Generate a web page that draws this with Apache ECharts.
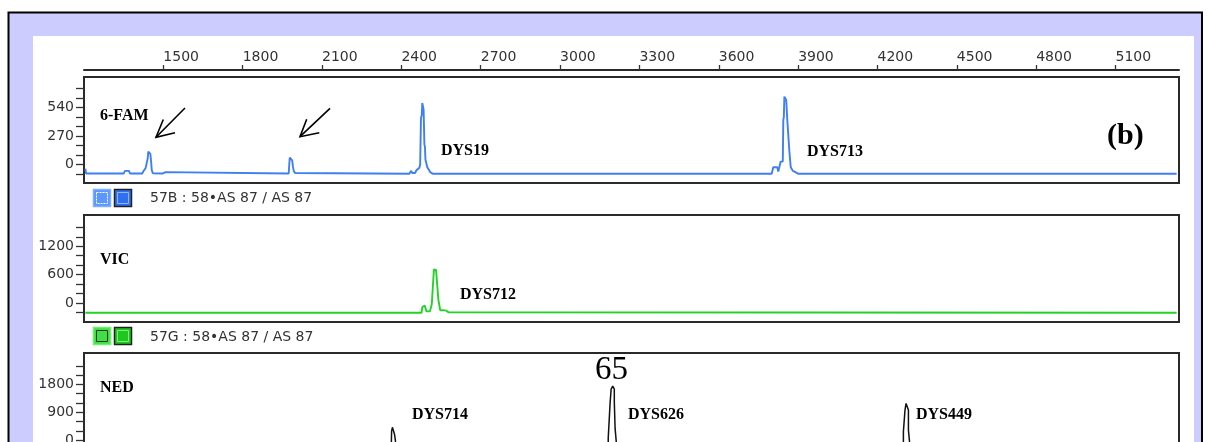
<!DOCTYPE html>
<html>
<head>
<meta charset="utf-8">
<script src="https://cdn.jsdelivr.net/npm/echarts@6/dist/echarts.min.js"></script>
<style>html,body{margin:0;padding:0;background:#fff;}#c{width:1209px;height:442px;}</style>
</head>
<body>
<div id="c"></div>
<script>
// ---- data ----
const xTickLabels = [1500, 1800, 2100, 2400, 2700, 3000, 3300, 3600, 3900, 4200, 4500, 4800, 5100];

const famX = [1205,1208,1350,1355,1370,1374,1402,1405,1408,1420,1424,1433,1439,1441,1443,1446,1449,1451,1454,1456,1460,1496,1498,1508,1510,
  1974,1976,1978,1984,1987,1990,1993,1998,2004,
  2430,2437,2441,2452,2456,2462,2468,2471,2474,2477,2479,2482,2484,2487,2489,2491,2495,2498,2505,2510,2520,
  3331,3333,3337,3339,
  3800,3806,3821,3825,3834,3842,3844,3846,3848,3851,3855,3857,3859,3867,3869,3872,3880,3888,3901,5331];
const famY = [-40,-85,-85,-60,-60,-85,-85,-72,-85,-85,-66,-34,-30,60,123,118,108,100,20,-50,-82,-85,-72,-72,-85,
  -85,0,66,62,40,-20,-60,-80,-85,
  -88,-60,-80,-80,-57,-50,-30,0,440,470,583,570,520,190,170,45,30,-25,-40,-75,-88,
  -88,-72,-72,-88,
  -88,-25,-25,-66,28,28,423,450,644,640,613,600,423,123,110,-25,-60,-70,-88,-88];

const vicX = [1205,1247,1249,1251,1285,1287,1289,2476,2479,2482,2488,2492,2495,2508,2515,2521,2523,2527,2531,2535,2538,2540,2544,2547,2553,2557,2562,2570,2578,2585,5331];
const vicY = [-205,-205,-170,-205,-205,-170,-205,-205,-90,-60,-50,-90,-175,-175,-20,0,708,720,700,708,690,60,40,-155,-160,-150,-165,-160,-195,-205,-205];

const nedX = [1205,2355,2362,2363,2366,2368,2370,2374,2378,2383,
  3175,3182,3182,3189,3189,3192,3193,3199,3201,3205,3205,3208,3208,3214,3214,3220,
  4292,4298,4298,4304,4304,4308,4310,4317,4317,4323,4323,4329,5331];
const nedY = [-300,-300,-100,300,420,437,380,200,-50,-300,
  -300,-200,64,64,1190,1190,1650,1746,1700,1650,1241,1241,386,386,-200,-300,
  -300,-200,277,277,974,1190,1190,974,331,331,-200,-300,-300];

const famTicks = [-90,0,90,180,270,360,450,540,630,720];
const famLabels = [0,270,540];
const vicTicks = [-200,0,200,400,600,800,1000,1200,1400,1600];
const vicLabels = [0,600,1200];
const nedTicks = [-300,0,300,600,900,1200,1500,1800,2100,2400];
const nedLabels = [0,900,1800];

// ---- chart ----
const pairs = (xs, ys) => xs.map((x, i) => [x, ys[i]]);
const AX = '#333';
const SANS = 'DejaVu Sans';
const SERIF = 'Liberation Serif';
const gridCommon = {left: 84, width: 1095, height: 107, show: true, borderColor: '#2a2a2a', borderWidth: 2,
  backgroundColor: '#fff', containLabel: false, outerBoundsMode: 'none'};

function yAxis(idx, min, max, ticks, labels) {
  return {
    type: 'value', gridIndex: idx, min: min, max: max,
    axisLine: {show: true, onZero: false, lineStyle: {color: '#2a2a2a', width: 2}},
    axisTick: {show: true, length: 8, customValues: ticks, lineStyle: {color: AX, width: 1.3}},
    axisLabel: {customValues: labels, margin: 10, fontSize: 14, fontFamily: SANS, color: AX, formatter: v => String(v)},
    splitLine: {show: false}
  };
}
function hiddenX(idx) {
  return {type: 'value', gridIndex: idx, min: 1200, max: 5340, show: false, axisLine: {onZero: false}, splitLine: {show: false}};
}

function txt(x, y, s, font, fill) {
  return {type: 'text', x: x, y: y, z: 20,
    style: {text: s, font: font, fill: fill || '#000', textVerticalAlign: 'middle', textAlign: 'left'}};
}
const boldSerif = 'bold 16px "' + SERIF + '"';
const sans14 = '14px "' + SANS + '"';

const chart = echarts.init(document.getElementById('c'), null, {renderer: 'canvas'});
chart.setOption({
  animation: false,
  backgroundColor: '#fff',
  grid: [
    Object.assign({}, gridCommon, {top: 77, height: 106}),
    Object.assign({}, gridCommon, {top: 215}),
    Object.assign({}, gridCommon, {top: 353})
  ],
  xAxis: [
    {type: 'value', gridIndex: 0, min: 1200, max: 5340, position: 'top', offset: 7,
      axisLine: {show: true, onZero: false, lineStyle: {color: '#2a2a2a', width: 2}},
      axisTick: {show: true, length: 5, customValues: xTickLabels, lineStyle: {color: AX, width: 1.3}},
      axisLabel: {customValues: xTickLabels, align: 'left', margin: 6, fontSize: 14, fontFamily: SANS, color: AX, formatter: v => String(v)},
      splitLine: {show: false}},
    hiddenX(1), hiddenX(2)
  ],
  yAxis: [
    yAxis(0, -175, 830, famTicks, famLabels),
    yAxis(1, -400, 1860, vicTicks, vicLabels),
    yAxis(2, -630, 2810, nedTicks, nedLabels)
  ],
  series: [
    {type: 'line', xAxisIndex: 0, yAxisIndex: 0, data: pairs(famX, famY), showSymbol: false, lineStyle: {color: '#3f7ff2', width: 1.9}},
    {type: 'line', xAxisIndex: 1, yAxisIndex: 1, data: pairs(vicX, vicY), showSymbol: false, lineStyle: {color: '#22d226', width: 1.9}},
    {type: 'line', xAxisIndex: 2, yAxisIndex: 2, data: pairs(nedX, nedY), showSymbol: false, lineStyle: {color: '#111', width: 1.5}}
  ],
  graphic: [
    {type: 'rect', z: -100, shape: {x: 8.5, y: 12.5, width: 1193.5, height: 460}, style: {fill: '#ccccff', stroke: '#000', lineWidth: 2}},
    {type: 'rect', z: -99, shape: {x: 33, y: 36, width: 1161, height: 440}, style: {fill: '#fff'}},
    // legend squares row 1
    {type: 'rect', z: 10, shape: {x: 93.5, y: 189.5, width: 17, height: 17}, style: {fill: '#5c97ff', stroke: '#7fb0ff', lineWidth: 1.5}},
    {type: 'rect', z: 11, shape: {x: 96.5, y: 192.5, width: 11, height: 11}, style: {fill: 'none', stroke: '#fff', lineWidth: 1, lineDash: [2, 1]}},
    {type: 'rect', z: 10, shape: {x: 114.5, y: 189.5, width: 17, height: 17}, style: {fill: '#2f6ff0', stroke: '#222', lineWidth: 1.5}},
    {type: 'rect', z: 11, shape: {x: 117.5, y: 192.5, width: 11, height: 11}, style: {fill: 'none', stroke: '#8fb5ff', lineWidth: 1}},
    // legend squares row 2
    {type: 'rect', z: 10, shape: {x: 93.5, y: 327.5, width: 17, height: 17}, style: {fill: '#3fe03f', stroke: '#6ef06e', lineWidth: 1.5}},
    {type: 'rect', z: 11, shape: {x: 96.5, y: 330.5, width: 11, height: 11}, style: {fill: 'none', stroke: '#333', lineWidth: 1}},
    {type: 'rect', z: 10, shape: {x: 114.5, y: 327.5, width: 17, height: 17}, style: {fill: '#1cc81c', stroke: '#222', lineWidth: 1.5}},
    {type: 'rect', z: 11, shape: {x: 117.5, y: 330.5, width: 11, height: 11}, style: {fill: 'none', stroke: '#7fe87f', lineWidth: 1}},
    txt(150, 198, '57B : 58\u2022AS 87 / AS 87', sans14, '#333'),
    txt(150, 337, '57G : 58\u2022AS 87 / AS 87', sans14, '#333'),
    // annotations
    txt(100, 116, '6-FAM', boldSerif),
    txt(441, 151, 'DYS19', boldSerif),
    txt(807, 152, 'DYS713', boldSerif),
    txt(1107, 136, '(b)', 'bold 30px "' + SERIF + '"'),
    txt(100, 260, 'VIC', boldSerif),
    txt(460, 295, 'DYS712', boldSerif),
    txt(100, 388, 'NED', boldSerif),
    txt(412, 415, 'DYS714', boldSerif),
    txt(628, 415, 'DYS626', boldSerif),
    txt(916, 415, 'DYS449', boldSerif),
    txt(595, 370, '65', '33px "' + SERIF + '"'),
    // arrows
    {type: 'polyline', z: 20, shape: {points: [[185, 108], [156, 137.3]]}, style: {stroke: '#000', lineWidth: 1.6, fill: null}},
    {type: 'polyline', z: 20, shape: {points: [[163.3, 119.5], [156, 137.3], [175, 132.7]]}, style: {stroke: '#000', lineWidth: 1.6, fill: null}},
    {type: 'polyline', z: 20, shape: {points: [[330, 108.3], [300, 136.7]]}, style: {stroke: '#000', lineWidth: 1.6, fill: null}},
    {type: 'polyline', z: 20, shape: {points: [[306.7, 119.3], [300, 136.7], [319.3, 132.7]]}, style: {stroke: '#000', lineWidth: 1.6, fill: null}}
  ]
});
</script>
</body>
</html>
